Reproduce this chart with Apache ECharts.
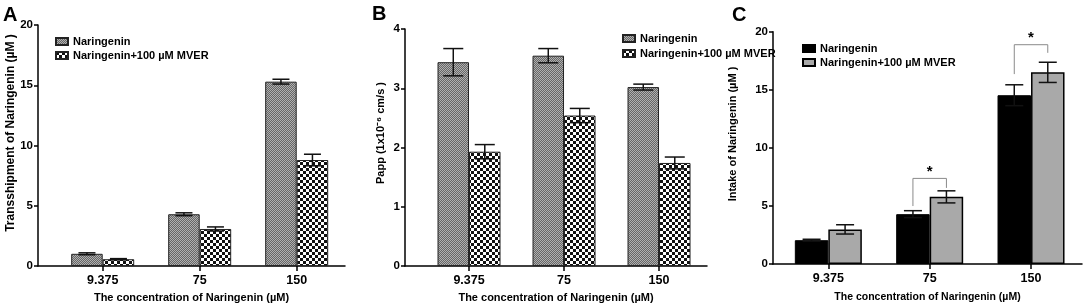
<!DOCTYPE html>
<html>
<head>
<meta charset="utf-8">
<script src="https://cdn.jsdelivr.net/npm/echarts@6/dist/echarts.min.js"></script>
<style>
  html, body { margin: 0; padding: 0; background: #fff; }
  #chart { width: 1084px; height: 308px; }
</style>
</head>
<body>
<div id="chart"></div>
<script>
var categories = ['9.375', '75', '150'];

// A: transshipment of naringenin (µM)
var transNar = [1.02, 4.3, 15.3];
var transNarErr = [0.08, 0.12, 0.2];
var transMver = [0.57, 3.08, 8.8];
var transMverErr = [0.05, 0.17, 0.48];

// B: Papp (1x10^-6 cm/s)
var pappNar = [3.44, 3.55, 3.02];
var pappNarErr = [0.23, 0.12, 0.05];
var pappMver = [1.93, 2.54, 1.74];
var pappMverErr = [0.12, 0.12, 0.1];

// C: intake of naringenin (µM)
var intakeNar = [2.05, 4.29, 14.53];
var intakeNarErr = [0.08, 0.3, 0.9];
var intakeMver = [2.98, 5.78, 16.5];
var intakeMverErr = [0.4, 0.52, 0.87];

// significance brackets in C: category, top, left leg end, right leg end
var sigCats = ['75', '150'];
var sigTop = [7.37, 18.88];
var sigLeft = [4.99, 16.35];
var sigRight = [6.55, 18.18];

var FONT = '"Liberation Sans", Arial, sans-serif';

function checker(size, c1, c2) {
  var cv = document.createElement('canvas');
  cv.width = cv.height = size * 2;
  var ctx = cv.getContext('2d');
  ctx.fillStyle = c1;
  ctx.fillRect(0, 0, size * 2, size * 2);
  ctx.fillStyle = c2;
  ctx.fillRect(0, 0, size, size);
  ctx.fillRect(size, size, size, size);
  return { image: cv, repeat: 'repeat' };
}

var finePattern = checker(1, '#666666', '#b0b0b0');
var coarsePattern = checker(3, '#ffffff', '#111111');

var styleFine = { color: finePattern, borderColor: '#222', borderWidth: 1 };
var styleCoarse = { color: coarsePattern, borderColor: '#222', borderWidth: 1 };
var styleBlack = { color: '#000', borderColor: '#000', borderWidth: 1 };
var styleGray = { color: '#a9a9a9', borderColor: '#000', borderWidth: 1.5 };

// panel geometry: grid + x range so that category centres land where they are
var panels = [
  { grid: { left: 38, right: 739, top: 25, bottom: 41 }, xmin: 0.333, xmax: 3.498, ymax: 20, step: 5, bw: 31.5, cap: 17 },
  { grid: { left: 405, right: 377, top: 29, bottom: 41 }, xmin: 0.326, xmax: 3.505, ymax: 4, step: 1, bw: 31.5, cap: 20 },
  { grid: { left: 773, right: 2, top: 31.7, bottom: 38.7 }, xmin: 0.454, xmax: 3.503, ymax: 20, step: 5, bw: 33.5, cap: 18 }
];

var xNames = [
  { gap: 21, size: 11 },
  { gap: 21, size: 11 },
  { gap: 28, size: 10.5 }
];

function pairs(vals) {
  return vals.map(function (v, i) { return [i + 1, v]; });
}

function barSeries(name, idx, vals, style) {
  return {
    type: 'bar', name: name, xAxisIndex: idx, yAxisIndex: idx,
    barWidth: panels[idx].bw, barGap: '0%', silent: true,
    data: pairs(vals), itemStyle: style
  };
}

function errSeries(idx, vals, errs, side) {
  var p = panels[idx];
  return {
    type: 'custom', xAxisIndex: idx, yAxisIndex: idx, silent: true, z: 5,
    encode: { x: 0, y: 1 },
    data: vals.map(function (v, i) { return [i + 1, v, errs[i]]; }),
    renderItem: function (params, api) {
      var x = api.value(0), v = api.value(1), e = api.value(2);
      var hi = api.coord([x, v + e]);
      var lo = api.coord([x, v - e]);
      var cx = hi[0] + side * p.bw / 2;
      var h = p.cap / 2;
      var st = { stroke: '#111', lineWidth: 1.5 };
      return {
        type: 'group',
        children: [
          { type: 'line', shape: { x1: cx, y1: hi[1], x2: cx, y2: lo[1] }, style: st },
          { type: 'line', shape: { x1: cx - h, y1: hi[1], x2: cx + h, y2: hi[1] }, style: st },
          { type: 'line', shape: { x1: cx - h, y1: lo[1], x2: cx + h, y2: lo[1] }, style: st }
        ]
      };
    }
  };
}

var bracketSeries = {
  type: 'custom', xAxisIndex: 2, yAxisIndex: 2, silent: true, z: 6,
  encode: { x: 0, y: 1 },
  data: sigCats.map(function (c, i) {
    return [categories.indexOf(c) + 1, sigTop[i], sigLeft[i], sigRight[i]];
  }),
  renderItem: function (params, api) {
    var x = api.value(0);
    var t = api.coord([x, api.value(1)]);
    var l = api.coord([x, api.value(2)]);
    var r = api.coord([x, api.value(3)]);
    var half = panels[2].bw / 2;
    return {
      type: 'group',
      children: [
        {
          type: 'polyline',
          shape: { points: [[t[0] - half, l[1]], [t[0] - half, t[1]], [t[0] + half, t[1]], [t[0] + half, r[1]]] },
          style: { stroke: '#8a8a8a', lineWidth: 1, fill: null }
        },
        {
          type: 'text', x: t[0], y: t[1] - 7,
          style: { text: '*', font: 'bold 15px ' + FONT, fill: '#000', align: 'center', verticalAlign: 'middle' }
        }
      ]
    };
  }
};

var xAxes = panels.map(function (p, i) {
  return {
    type: 'value', gridIndex: i, min: p.xmin, max: p.xmax,
    name: 'The concentration of Naringenin (µM)', nameLocation: 'middle', nameGap: xNames[i].gap,
    nameTextStyle: { color: '#000', fontWeight: 'bold', fontSize: xNames[i].size, fontFamily: FONT, verticalAlign: 'top' },
    splitLine: { show: false },
    axisLine: { show: true, lineStyle: { color: '#000', width: 1.5 } },
    axisTick: { show: true, customValues: [1, 2, 3], length: 5, lineStyle: { color: '#000', width: 1.5 } },
    axisLabel: {
      customValues: [1, 2, 3], margin: 8, color: '#000', fontWeight: 'bold', fontSize: 12.5, fontFamily: FONT,
      formatter: function (v) { return categories[Math.round(v) - 1]; }
    }
  };
});

var yAxes = panels.map(function (p, i) {
  return {
    type: 'value', gridIndex: i, min: 0, max: p.ymax, interval: p.step,
    splitLine: { show: false },
    axisLine: { show: true, lineStyle: { color: '#000', width: 1.5 } },
    axisTick: { show: true, length: 4, lineStyle: { color: '#000', width: 1.5 } },
    axisLabel: { margin: 5, color: '#000', fontWeight: 'bold', fontSize: 11.5, fontFamily: FONT }
  };
});

function legendFor(idx, left, top, gap) {
  return {
    orient: 'vertical', left: left, top: top, itemWidth: 12, itemHeight: 7, itemGap: gap,
    selectedMode: false, icon: 'rect',
    data: ['Naringenin|' + idx, 'Naringenin+100 µM MVER|' + idx],
    formatter: function (n) { return n.split('|')[0]; },
    textStyle: { color: '#000', fontWeight: 'bold', fontSize: 11, fontFamily: FONT }
  };
}

function label(text, x, y) {
  return { type: 'text', left: x, top: y, style: { text: text, font: 'bold 20px ' + FONT, fill: '#000' } };
}

function yName(text, x, y, size) {
  return {
    type: 'text', x: x, y: y, rotation: Math.PI / 2,
    style: { text: text, font: 'bold ' + size + 'px ' + FONT, fill: '#000', align: 'center', verticalAlign: 'middle' }
  };
}

var chart = echarts.init(document.getElementById('chart'));
chart.setOption({
  animation: false,
  backgroundColor: '#fff',
  grid: panels.map(function (p) { return p.grid; }),
  xAxis: xAxes,
  yAxis: yAxes,
  legend: [
    legendFor('A', 50, 31, 3),
    legendFor('B', 617, 28, 4),
    legendFor('C', 797, 38, 3)
  ],
  graphic: [
    label('A', 3, 5),
    label('B', 372, 4),
    label('C', 732, 5),
    yName('Transshipment of Naringenin (µM )', 11, 133, 12),
    yName('Papp (1x10⁻⁶ cm/s )', 381, 133, 11),
    yName('Intake of Naringenin (µM )', 733, 134, 11)
  ],
  series: [
    barSeries('Naringenin|A', 0, transNar, styleFine),
    barSeries('Naringenin+100 µM MVER|A', 0, transMver, styleCoarse),
    errSeries(0, transNar, transNarErr, -1),
    errSeries(0, transMver, transMverErr, 1),
    barSeries('Naringenin|B', 1, pappNar, styleFine),
    barSeries('Naringenin+100 µM MVER|B', 1, pappMver, styleCoarse),
    errSeries(1, pappNar, pappNarErr, -1),
    errSeries(1, pappMver, pappMverErr, 1),
    barSeries('Naringenin|C', 2, intakeNar, styleBlack),
    barSeries('Naringenin+100 µM MVER|C', 2, intakeMver, styleGray),
    errSeries(2, intakeNar, intakeNarErr, -1),
    errSeries(2, intakeMver, intakeMverErr, 1),
    bracketSeries
  ]
});
</script>
</body>
</html>
